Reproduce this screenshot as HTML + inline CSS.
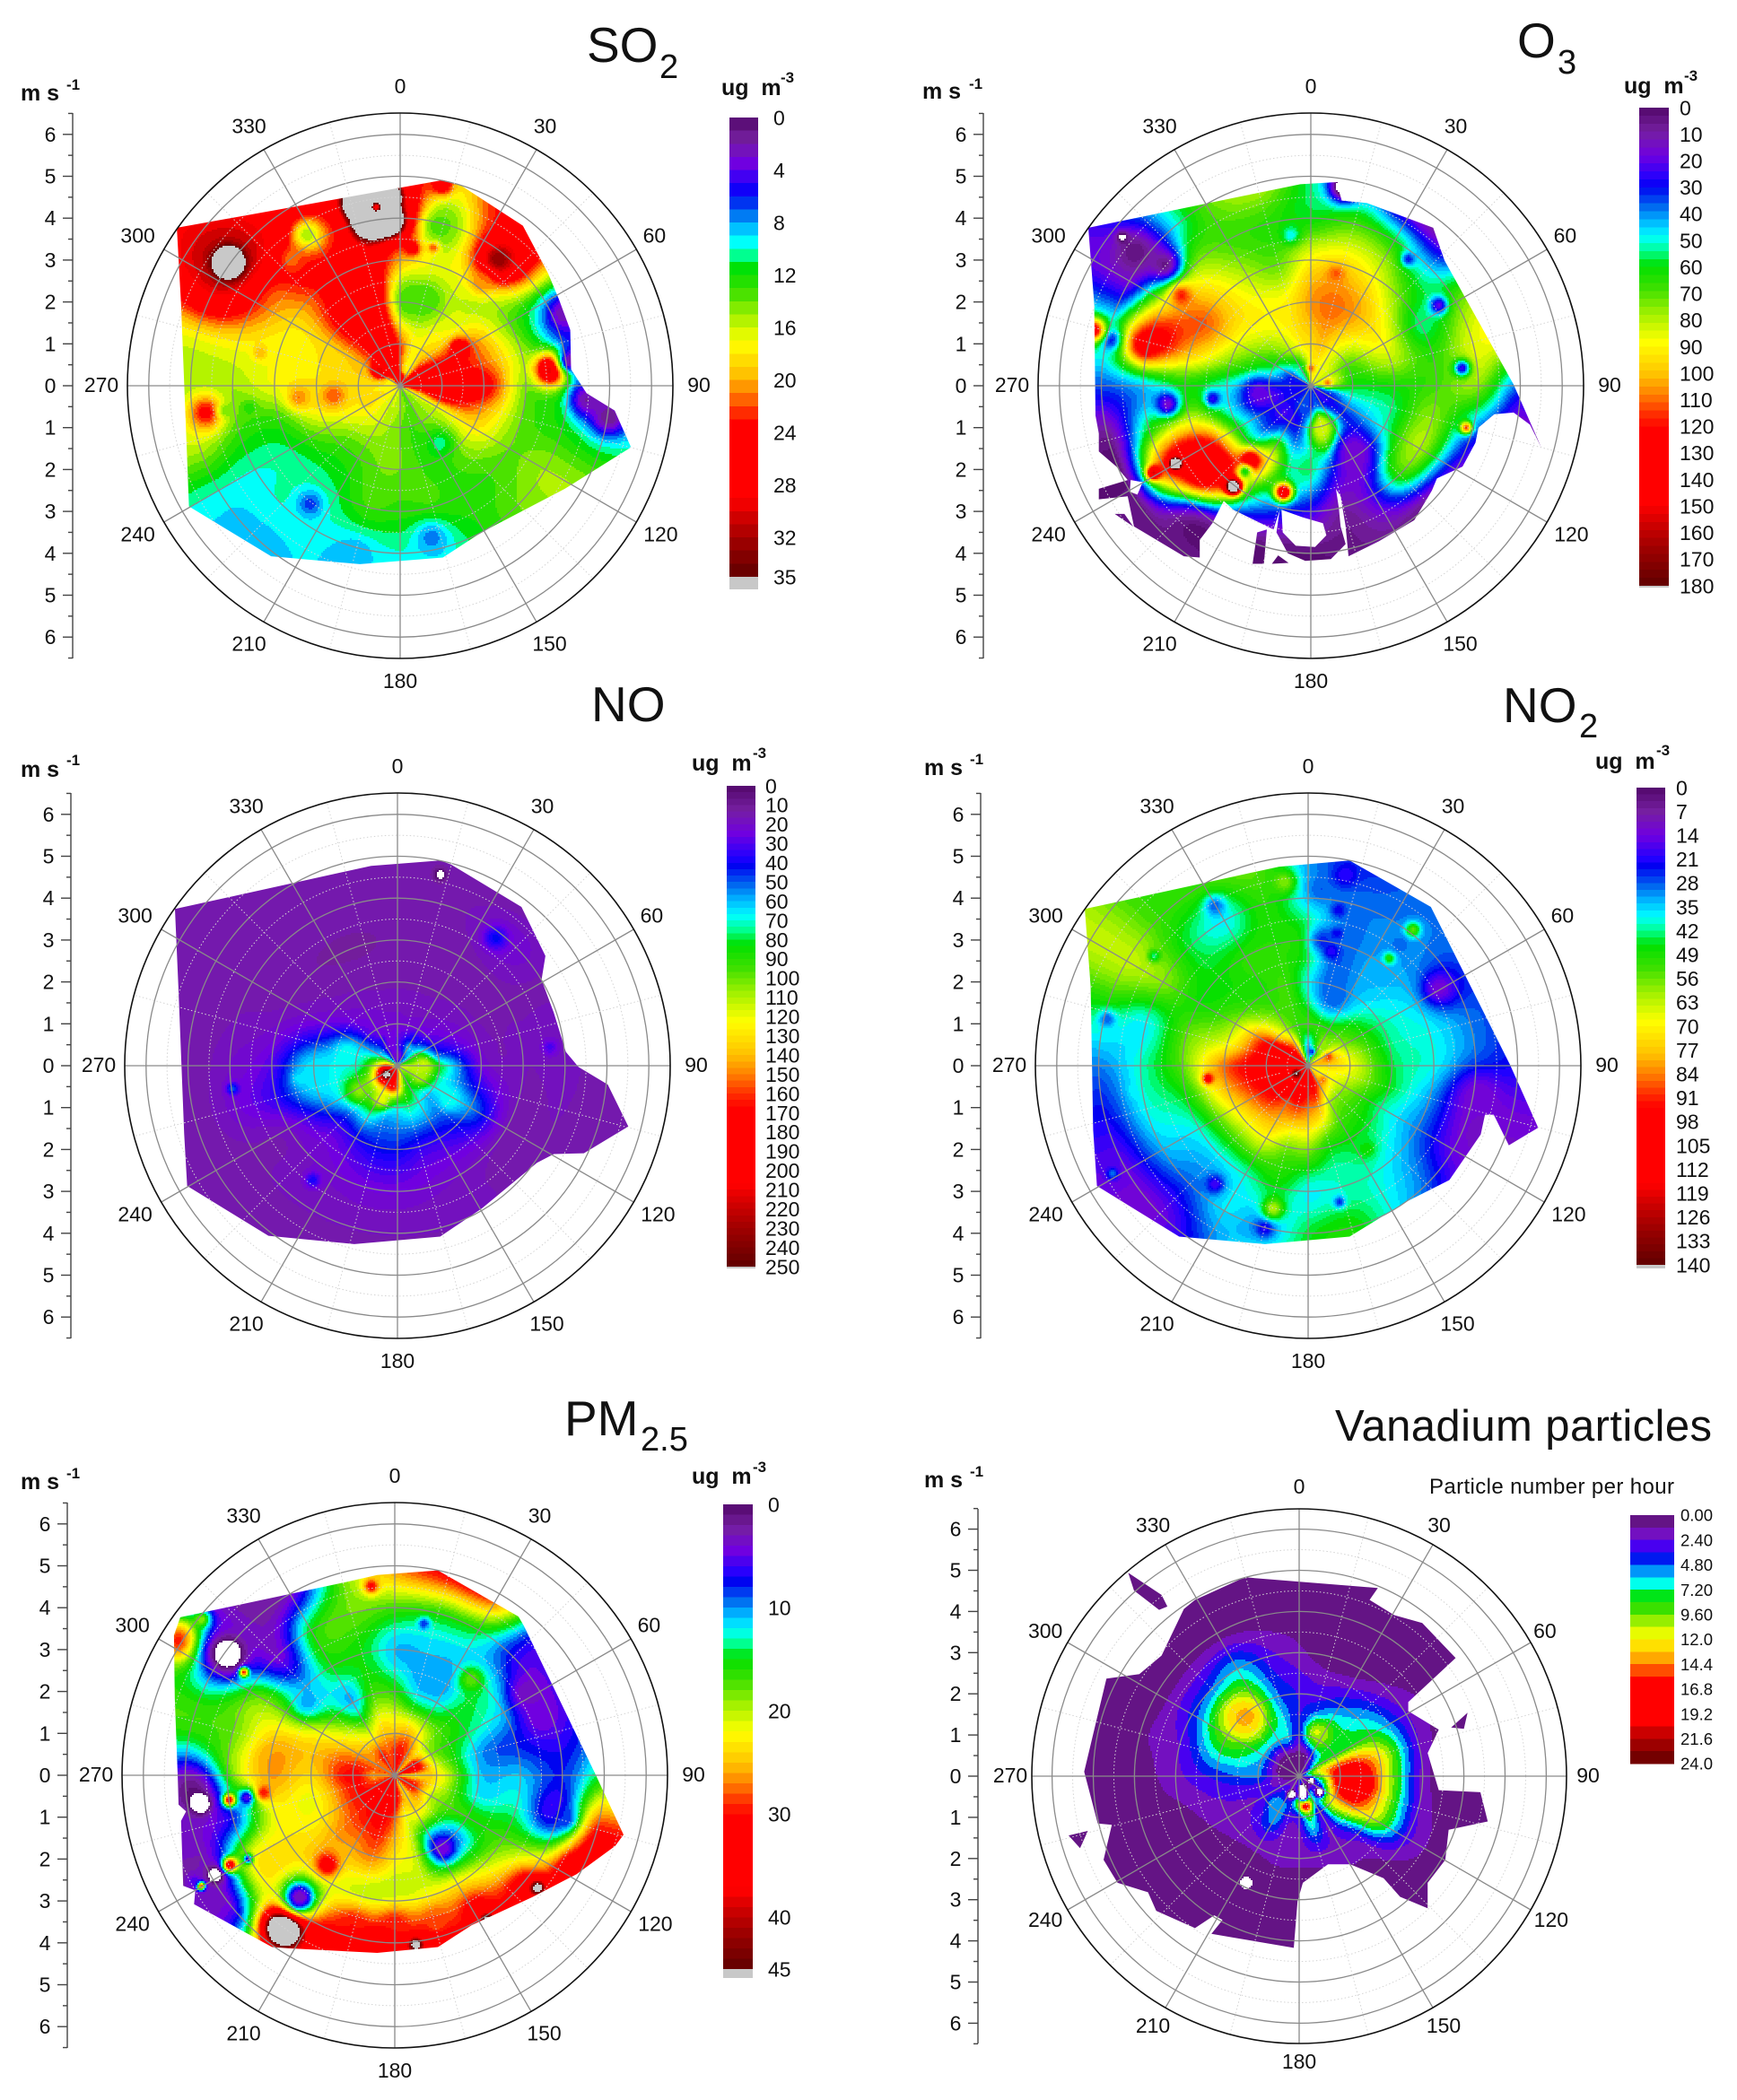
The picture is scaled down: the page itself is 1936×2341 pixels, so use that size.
<!DOCTYPE html>
<html lang="en">
<head>
<meta charset="utf-8">
<title>Pollutant polar plots</title>
<style>
html,body{margin:0;padding:0;background:#fff;width:1936px;height:2341px;overflow:hidden}
svg{display:block}
text{font-family:"Liberation Sans",Arial,sans-serif;fill:#111}
.title{font-size:55px}
.sub{font-size:38px}
.unit{font-size:25px;font-weight:bold;white-space:pre}
.sup{font-size:17px;font-weight:bold}
</style>
</head>
<body>
<svg id="chart" width="1936" height="2341" viewBox="0 0 1936 2341" xmlns="http://www.w3.org/2000/svg">
<rect width="1936" height="2341" fill="#fff"/>
<defs id="clips"></defs>
<g id="panels"></g>

<text class="title" x="654" y="69">SO</text>
<text class="sub" x="735" y="87">2</text>
<text class="unit" x="23" y="112">m s</text>
<text class="sup" x="74" y="100">-1</text>
<text class="unit" x="804" y="106">ug  m</text>
<text class="sup" x="870" y="92">-3</text>

<text class="title" x="1691" y="64">O</text>
<text class="sub" x="1736" y="82">3</text>
<text class="unit" x="1028" y="110">m s</text>
<text class="sup" x="1080" y="99">-1</text>
<text class="unit" x="1810" y="104">ug  m</text>
<text class="sup" x="1877" y="90">-3</text>

<text class="title" x="659" y="804">NO</text>
<text class="unit" x="23" y="866">m s</text>
<text class="sup" x="74" y="853">-1</text>
<text class="unit" x="771" y="859">ug  m</text>
<text class="sup" x="839" y="845">-3</text>

<text class="title" x="1675" y="805">NO</text>
<text class="sub" x="1760" y="822">2</text>
<text class="unit" x="1030" y="864">m s</text>
<text class="sup" x="1081" y="852">-1</text>
<text class="unit" x="1778" y="857">ug  m</text>
<text class="sup" x="1846" y="842">-3</text>

<text class="title" x="629" y="1600">PM</text>
<text class="sub" x="714" y="1617">2.5</text>
<text class="unit" x="23" y="1660">m s</text>
<text class="sup" x="74" y="1648">-1</text>
<text class="unit" x="771" y="1654">ug  m</text>
<text class="sup" x="839" y="1641">-3</text>

<text x="1488" y="1606" style="font-size:49px" textLength="420">Vanadium particles</text>
<text class="unit" x="1030" y="1658">m s</text>
<text class="sup" x="1081" y="1646">-1</text>
<text x="1593" y="1665" style="font-size:24px" textLength="273">Particle number per hour</text>
</svg>

<script>
/* ---- shared axes ---- */
const directions = [0,15,30,45,60,75,90,105,120,135,150,165,180,195,210,225,240,255,270,285,300,315,330,345];
const ringSpeeds = [0.5,1,2,3,4,5];
const speedTicks = [0,1,2,3,4,5,6];
const angleTicks = [0,30,60,90,120,150,180,210,240,270,300,330];

/* ---- SO2: concentration per ring (rows) and direction (columns) ---- */
const so2Values = [
 [22,18,18,23,26,27,26,22,17,15,14,14,15,16,16,17,18,18,18,19,22,26,28,25],
 [22,18,18,20,24,26,26,25,17,15,14,13,14,15,16,17,18,18,18.5,19,20,23,25,26],
 [14,14,16,17,21,22,25,21,18,15,13,13,14,14,13,13,15,18,18,18,19,24,27,26],
 [20,17,17,16,14,15,14,14,14,13,12.5,13,12.5,13,11,10.5,11,13,17,17,18,22,26,27],
 [27,15,21,24,10,7,11,12,15,14,12,10,10,9,9.5,10,10,13,15,17,21,27,22,26],
 [27,18,24,24,10,5,5,10,15,14,12,10,10,9,9,8.5,10,16,15,17,27,27,26,26]
];
/* localised features: east speed, north speed, value, extent */
const so2Spots = [
 [-3.2,2.2,18,.45],[-2.7,3,19,.3],[.2,4,27,.3],[1,4.8,27,.18],[.3,3.3,27,.13],[.8,3.32,26,.1],
 [-4.1,2.94,32,.8],[-4.1,2.94,60,.2],[-.7,3.95,60,.28],[-.3,4.5,55,.2],[-1,4.4,55,.25],[-.25,3.95,55,.22],[-.57,4.26,27,.1],
 [2.34,3.02,33,.35],[3.6,.39,31,.28],[-4.64,-.64,24,.3],[-2.22,3.61,15,.25],[.89,3.82,13.5,.35],
 [-2.15,-2.82,6.5,.22],[.75,-3.63,7.5,.3],[-1.1,-4,8,.22],[-2.42,-.28,21,.2],[-1.59,-.23,22,.2],
 [-3.34,.79,20,.12],[-3.6,-.52,12.5,.13],[-4.17,-.59,14,.13],[.95,-1.37,10.5,.25],[1.94,2.47,21,.2],
 [.62,2.06,13,.3],[1.41,.91,27,.15],[-1.1,2.47,29,.3],
 [3.93,1.74,2,.3],[4.06,.6,2,.22],[4.45,-.33,2,.3],[4.98,-.75,1,.3],
 [-.5,.36,30,.12],[0,.19,29,.08],[-.23,.04,17,.1]
];
const so2Boundary = [[[-5.33,3.77],[1.02,4.91],[1.41,4.81],[2.93,3.82],[3.53,2.68],[3.79,2.06],[4.06,1.33],[4.08,.39],[4.45,-.18],[5.12,-.59],[5.51,-1.47],[3.93,-2.46],[1.94,-3.5],[1.02,-4.1],[-.96,-4.26],[-3.08,-4.07],[-5.04,-2.88],[-5.09,-1.58],[-5.23,1.95]]];
const so2LegendTicks = ["0","4","8","12","16","20","24","28","32","35"];

/* ---- O3 ---- */
const o3Values = [
 [90,90,85,85,80,85,75,40,30,25,30,35,30,35,35,30,30,30,30,30,35,50,55,70],
 [95,100,90,80,70,65,60,50,38,30,50,85,40,28,28,25,28,25,35,50,60,70,80,90],
 [105,110,105,95,88,78,62,55,52,40,18,35,55,55,85,60,60,48,50,72,85,90,90,92],
 [90,95,88,72,55,65,68,75,78,65,25,10,25,35,60,125,125,80,62,100,112,95,80,72],
 [60,68,60,45,70,85,75,40,20,5,8,5,3,3,8,20,110,60,45,120,90,78,68,65],
 [55,40,5,10,80,90,35,10,5,3,3,3,3,3,3,5,3,5,35,55,20,40,70,80]
];
const o3Spots = [
 [-2.6,-2,135,.45],[-4.2,3.2,3,.4],[-3.5,2.9,5,.3],[-4.5,3.55,-5,.1],[-3.23,-1.86,250,.1],[-1.85,-2.41,250,.12],
 [-.65,-2.54,150,.15],[-1.44,-1.79,140,.2],[-1.57,-2.05,60,.12],[-3.75,-2.08,155,.12],
 [3.05,1.92,20,.15],[3.61,.42,25,.14],[2.33,3.02,30,.12],[3.71,-1,115,.1],[-4.81,1.12,25,.2],
 [-5.18,1.33,130,.2],[-3.95,.97,130,.25],[-3.42,-.44,15,.2],[-2.34,-.31,25,.13],[-1.24,-.18,18,.25],
 [-.48,3.6,48,.15],[.61,2.68,112,.15],[-3.09,2.16,118,.18],[.28,-1.06,85,.25],[1.07,-1.58,15,.35],
 [.81,4.76,-20,.25],[0,.42,115,.06],[.4,.07,110,.07]
];
const o3Boundary = [
 [[-5.31,3.77],[-.25,4.81],[.94,4.88],[.67,4.65],[.74,4.42],[1.34,4.36],[2.92,3.77],[3.19,2.99],[4.84,.03],[5.5,-1.47],[5.23,-.93],[4.84,-.64],[4.38,-.68],[4,-1],[3.93,-1.36],[3.62,-1.93],[3.01,-2.21],[2.89,-2.5],[2.47,-3.21],[1.63,-3.71],[.9,-4.07],[.83,-3.36],[.71,-2.64],[.6,-2.46],[.67,-2.93],[.71,-3.36],[.83,-3.78],[.48,-4.14],[-.13,-4.18],[-.55,-4],[-.82,-3.5],[-.74,-2.96],[-.89,-3.43],[-1.85,-2.96],[-2.08,-2.75],[-2.35,-3.28],[-2.65,-3.68],[-2.65,-4.1],[-3.03,-4.07],[-4.22,-3.36],[-4.37,-2.64],[-5.06,-2.71],[-5.06,-2.46],[-4.37,-2.25],[-4.64,-1.93],[-5.06,-1.57],[-5.06,-1.14],[-5.14,-.71],[-5.17,1.95]],
 [[-.7,-2.96],[-.67,-3.5],[-.36,-3.82],[.1,-3.85],[.37,-3.57],[.29,-3.28],[-.2,-3.14]],
 [[-4.3,-2.25],[-4.01,-2.3],[-4.14,-2.6],[-4.32,-2.53]],
 [[-1.28,-3.5],[-1.05,-3.43],[-1.12,-4.25],[-1.39,-4.25]],
 [[-.93,-4.25],[-.78,-4.05],[-.53,-4.23]],
 [[-4.68,-3.06],[-4.45,-3.06],[-4.24,-3.36]]
];
const o3LegendTicks = ["0","10","20","30","40","50","60","70","80","90","100","110","120","130","140","150","160","170","180"];

/* ---- NO ---- */
const noValues = [
 [30,40,60,60,80,90,110,110,100,90,80,100,130,140,130,120,110,100,95,80,60,50,30,25],
 [22,22,25,28,35,50,80,75,70,60,70,75,70,70,90,85,90,80,72,65,50,32,25,22],
 [16,16,16,17,18,20,25,38,55,42,36,36,42,42,38,34,48,62,62,42,26,19,17,16],
 [14,14,15,16,16,17,17,17,17,18,20,22,24,24,22,20,20,35,30,22,16,14,13,13],
 [15,15,18,22,16,18,18,17,16,16,17,17,17,17,17,17,16,22,20,17,15,15,15,15],
 [14,14,14,14,14,14,14,14,14,14,14,14,14,14,14,14,14,14,14,14,14,14,14,14]
];
const noSpots = [
 [-1.9,-.2,66,.4],[-1.2,.3,70,.25],
 [-.26,-.21,190,.2],[-.13,-.5,170,.1],[-.26,-.21,270,.1],[0,.23,20,.1],[-.37,.59,40,.06],[.4,.6,35,.06],
 [2.34,3.05,42,.2],[3.64,.44,32,.13],[-3.94,-.55,50,.1],[-2.35,-.31,65,.12],[-2.02,-2.73,40,.13],
 [.62,.02,115,.15],[.55,-.24,110,.15],[-.9,-.6,105,.2],[-.37,-.81,120,.15],[1.22,-.81,70,.2],[1.02,4.56,-10,.09]
];
const noBoundary = [[[-5.31,3.74],[-.63,4.77],[1.02,4.9],[1.28,4.8],[2.96,3.79],[3.53,2.62],[3.44,2.05],[3.73,1.27],[4.02,.33],[4.32,-.03],[5.02,-.45],[5.51,-1.45],[4.45,-2.09],[3.73,-2.11],[3.33,-2.32],[2.01,-3.41],[1.02,-4.08],[-1.03,-4.26],[-3.08,-4.06],[-5.02,-2.87],[-5.09,-1.64],[-5.23,1.89]]];
const noLegendTicks = ["0","10","20","30","40","50","60","70","80","90","100","110","120","130","140","150","160","170","180","190","200","210","220","230","240","250"];

/* ---- NO2 ---- */
const no2Values = [
 [35,45,60,60,75,80,75,70,70,75,85,95,95,105,105,105,105,105,100,100,100,95,80,50],
 [52,52,52,55,58,65,68,65,60,58,62,80,85,90,88,95,98,100,100,100,96,75,60,52],
 [40,30,35,38,42,43,45,46,42,45,47,48,58,58,68,68,72,80,85,68,60,52,50,52],
 [48,30,32,33,35,38,38,32,30,35,40,40,38,46,40,38,40,47,55,55,48,47,50,50],
 [35,30,30,30,25,30,28,14,15,28,38,48,45,32,36,28,33,38,40,38,58,45,38,50],
 [32,25,28,30,30,25,22,13,12,15,35,48,48,45,28,14,15,22,30,45,63,52,52,55]
];
const no2Spots = [
 [.3,4.2,28,.2],[.35,3,25,.25],
 [-.28,-.19,125,.13],[-.28,-.19,145,.05],[.09,.33,25,.07],[.49,.21,90,.07],[.36,-.34,85,.07],[3.13,1.84,12,.28],
 [.89,4.54,20,.2],[.73,3.71,22,.13],[.69,3.16,22,.1],[.56,2.72,20,.13],[.62,1.63,28,.35],[2.5,3.24,55,.13],
 [1.94,2.56,50,.1],[2.2,2.88,28,.12],[-2.39,-.31,100,.1],[-2.22,3.81,28,.18],[-3.67,2.62,42,.1],[-4.8,1.11,28,.15],
 [-4.67,-2.58,30,.1],[-2.22,-2.83,18,.15],[-1.03,-3.87,20,.15],[.75,-3.25,25,.1],[4.06,-.71,12,.4],[-.83,-3.41,62,.18],
 [-.57,4.38,58,.2],[1.41,-2,48,.15],[-4.14,-.6,38,.1]
];
const no2Boundary = [[[-5.33,3.74],[-.7,4.75],[.99,4.9],[2.93,3.79],[4.82,.02],[5.49,-1.48],[4.79,-1.9],[4.43,-1.17],[4.22,-1.17],[4.12,-1.64],[3.37,-2.73],[2.34,-3.25],[.99,-4.08],[-1.03,-4.26],[-3.08,-4.08],[-5.04,-2.87],[-5.13,-1.54],[-5.19,1.89]]];
const no2LegendTicks = ["0","7","14","21","28","35","42","49","56","63","70","77","84","91","98","105","112","119","126","133","140"];

/* ---- PM2.5 ---- */
const pmValues = [
 [30,30,28,26,32,32,24,28,30,28,24,28,33,33,33,33,30,28,26,28,27,28,30,28],
 [25,26,24,20,19,21,23,22,20,22,23,22,28,31,31,30,30,30,31,29,26,24,23,25],
 [16,12,12,15,14,11,11.5,12.5,16,10,8,20,23,27,26,26,23,22,24,25,22,16,11,17],
 [11,11,11,13,11,8,11,13,17,20,23,22,20,20,22,24,23,22,26,25,19,11,15,15],
 [17,16,15,7,5,6,8,7,22,30,29,32,33,32,30,23,21,8,18,18,18,4,15,18],
 [27,31,30,8,9,9,15,30,36,36,38,42,42,35,35,8,3,4,8,17,12,3,4,18]
];
const pmSpots = [
 [4.3,-2.3,34,.3],[3.2,-2.7,34,.3],[2,-3.3,34,.3],[1,-3.9,36,.3],[-.4,-4.1,38,.3],[0,-3.6,30,.35],[-1,-3.6,30,.35],[1,-3.5,28,.3],
 [-5.1,3.2,32,.4],[-4.6,3.7,22,.15],
 [-3.99,2.9,5,.55],[-3.99,2.9,-5,.28],[-4.85,-.37,1,.45],[-4.63,-.68,-5,.16],[-4.28,-2.38,4,.25],[-4.28,-2.38,-5,.13],
 [-2.64,-3.65,34,.5],[-2.64,-3.65,70,.28],[-2.27,-2.91,6,.35],[-2.27,-2.91,3,.15],
 [-3.53,-.53,5,.14],[-3.95,-.59,33,.1],[-3.13,-.42,30,.13],[-3.93,-2.14,35,.12],[-3.5,-2,6,.08],
 [-4.63,-2.64,32,.07],[-4.79,-2.52,6,.1],[-3.6,2.46,30,.08],[-1.61,-2.14,33,.2],[1.16,-1.75,4,.17],
 [-.56,4.51,31,.13],[.7,3.62,8,.1],[1.82,2.29,18,.2],[3.15,1.96,3,.3],[3.48,1.41,4,.3],[4.07,-1.03,8,.2],
 [-2.08,1.74,10.5,.3],[-2.93,.41,26,.2],[.5,-4.04,50,.12],[2.22,-3.47,50,.12],[3.41,-2.69,50,.12]
];
const pmBoundary = [[[-5.27,3.34],[-5.12,3.77],[-1.22,4.6],[-.42,4.78],[1.03,4.89],[2.95,3.79],[3.08,3.57],[4.8,0],[5.46,-1.42],[5.26,-1.69],[4.34,-2.36],[3.28,-2.91],[1.83,-3.58],[1.03,-4.1],[-.42,-4.24],[-2.54,-4.13],[-2.93,-4.1],[-4.79,-3.08],[-4.76,-2.75],[-5.05,-2.64],[-5.1,-1.09],[-4.98,-.86],[-5.16,-.7],[-5.18,-.03],[-5.25,1.85]]];
const pmLegendTicks = ["0","10","20","30","40","45"];

/* ---- Vanadium particles ---- */
const vanValues = [
 [1,1,3,6,9,12,9,5,3,4,8,12,12,6,3,4,3,2,1.5,1,1,.7,.7,.8],
 [3,6,9,8,8,14,16,14,12,9,3,8,3.5,3,6,4,2.5,3,5,5.5,6,6,6,6],
 [3.5,3.2,4.5,6,8,12,12,12,11,3.5,2,2,1.5,1.5,1.5,1.5,1.8,2.5,4,7,10,13,9,5],
 [1.5,.5,.5,1.5,2.5,2.5,2,2.5,3,1,.5,.5,.5,.5,.5,.5,.5,1,2,2.5,4,5,6,3],
 [.5,.5,.5,.5,.5,.5,.5,.5,.5,.5,.5,.5,.5,.5,.5,.5,.5,.5,.5,1,.5,.5,.5,.5],
 [.5,.5,.5,.5,.5,.5,.5,.5,.5,.5,.5,.5,.5,.5,.5,.5,.5,.5,.5,.5,.5,.5,.5,.5]
];
const vanSpots = [
 [1.37,-.17,19,.35],[-1.25,1.47,13.5,.3],[.43,1.07,11,.2],[.16,-.73,17,.1],[-.58,-.68,6,.13],[-.1,.11,.3,.25],
 [.09,-.3,-8,.08],[.09,-.48,-8,.08],[-.17,-.45,-5,.07],[.5,-.39,-5,.07],[.3,-.11,-5,.05],[-1.28,-2.59,-5,.07]
];
const vanBoundary = [
 [[-1.32,4.83],[1.91,4.57],[1.71,4.28],[2.31,3.91],[2.99,3.72],[3.8,2.87],[2.65,1.8],[2.65,1.58],[3.39,1.13],[3.12,.56],[3.39,-.34],[4.4,-.39],[4.58,-1.1],[3.63,-1.3],[3.55,-2.03],[3.12,-2.59],[3.12,-3.21],[2.45,-2.93],[2.05,-2.48],[1.24,-2.14],[.7,-2.14],[.09,-2.59],[-.04,-3.04],[-.13,-4.17],[-2.13,-3.83],[-1.86,-3.49],[-2.06,-3.38],[-2.53,-3.69],[-3.47,-3.27],[-3.67,-2.82],[-4.41,-2.59],[-4.75,-2.03],[-4.55,-1.18],[-4.89,-1.15],[-5.22,.11],[-4.68,2.37],[-3.88,2.48],[-3.34,2.93],[-2.8,4.06],[-2.53,4.28]],
 [[-4.15,4.94],[-3.34,4.4],[-3.2,4.12],[-3.4,4.04],[-4.01,4.51]],
 [[4.09,1.54],[4,1.15],[3.69,1.18]],
 [[-5.6,-1.44],[-5.13,-1.33],[-5.32,-1.75]]
];
const vanLegendTicks = ["0.00","2.40","4.80","7.20","9.60","12.0","14.4","16.8","19.2","21.6","24.0"];

/* ---- colour scale ---- */
const colourPositions = [0,.05,.1,.15,.165,.21,.235,.27,.3,.33,.38,.43,.49,.56,.6,.64,.67,.83,.87,.92,1];
const colourValues = ["#52086a","#751fa0","#7000e0","#2000ff","#0000f0","#0070f0","#00b0ff","#00ffff","#00ff90","#00e000","#40e000","#a0f000","#ffff00","#ffc000","#ff8000","#ff3000","#ff0000","#ff0000","#d00000","#a00000","#600000"];
const overRangeColour = "#c8c8c8";

function hexToRgb(h){return [parseInt(h.slice(1,3),16),parseInt(h.slice(3,5),16),parseInt(h.slice(5,7),16)];}
function colourAt(t){
  let i=0;
  while(i<colourPositions.length-2&&t>colourPositions[i+1])i++;
  const f=Math.max(0,Math.min(1,(t-colourPositions[i])/(colourPositions[i+1]-colourPositions[i])));
  const a=hexToRgb(colourValues[i]),b=hexToRgb(colourValues[i+1]);
  return "rgb("+Math.round(a[0]+(b[0]-a[0])*f)+","+Math.round(a[1]+(b[1]-a[1])*f)+","+Math.round(a[2]+(b[2]-a[2])*f)+")";
}
function catmull(p0,p1,p2,p3,f){
  return .5*((2*p1)+(-p0+p2)*f+(2*p0-5*p1+4*p2-p3)*f*f+(-p0+3*p1-3*p2+p3)*f*f*f);
}
function ringIndex(s){
  if(s<=ringSpeeds[0])return 0;
  for(let i=0;i<ringSpeeds.length-1;i++){
    if(s<=ringSpeeds[i+1])return i+(s-ringSpeeds[i])/(ringSpeeds[i+1]-ringSpeeds[i]);
  }
  return ringSpeeds.length-1;
}
function gridValue(values,s,dir){
  const n=directions.length,step=360/n;
  const a=(((dir%360)+360)%360)/step,i=Math.floor(a)%n,f=a-Math.floor(a);
  const ri=ringIndex(s),last=values.length-1,j=Math.min(Math.floor(ri),last),g=ri-j;
  const rowAt=function(k){
    const row=values[Math.max(0,Math.min(last,k))];
    return catmull(row[(i-1+n)%n],row[i],row[(i+1)%n],row[(i+2)%n],f);
  };
  return catmull(rowAt(j-1),rowAt(j),rowAt(j+1),rowAt(j+2),g);
}
function fieldValue(panel,u,v){
  const s=Math.hypot(u,v),dir=Math.atan2(u,v)*180/Math.PI;
  let val=gridValue(panel.values,s,dir);
  val=Math.max(panel.max*.005,Math.min(panel.max,val));
  for(const sp of panel.spots){
    const du=u-sp[0],dv=v-sp[1];
    const w=Math.exp(-(du*du+dv*dv)/(2*sp[3]*sp[3]));
    val+=(sp[2]-val)*w;
  }
  return val;
}

const NS="http://www.w3.org/2000/svg";
function mk(tag,attrs,parent){
  const el=document.createElementNS(NS,tag);
  for(const k in attrs)el.setAttribute(k,attrs[k]);
  if(parent)parent.appendChild(el);
  return el;
}

function labelNudge(deg){
  if(deg===30||deg===60)return -5;
  if(deg===120)return 2;
  if(deg===240||deg===300)return -4;
  if(deg===210||deg===330)return -2;
  return 0;
}

function drawPanel(p){
  const root=document.getElementById("panels");
  const g=mk("g",{},root);
  
  
  const xOf=function(u){return p.cx+u*p.unit;};
  const yOf=function(v){return p.cy-v*p.unit;};

  /* data footprint */
  const clip=mk("clipPath",{id:"clip-"+p.id},document.getElementById("clips"));
  let clipD="";
  for(const poly of p.boundary){
    clipD+="M"+poly.map(function(q){return xOf(q[0]).toFixed(1)+" "+yOf(q[1]).toFixed(1);}).join("L")+"Z";
  }
  mk("path",{d:clipD,"clip-rule":"evenodd"},clip);

  /* filled contour bands */
  const field=mk("g",{"clip-path":"url(#clip-"+p.id+")","shape-rendering":"crispEdges"},g);
  
  
  const bands={};
  const cellSize=2,R=p.radius;
  for(let py=p.cy-R;py<p.cy+R;py+=cellSize){
    let runStart=null,runBand=null;
    const flush=function(end){
      if(runBand!==null&&runBand!==-1){
        (bands[runBand]=bands[runBand]||[]).push("M"+runStart+" "+py+"h"+(end-runStart)+"v"+cellSize+"h"+(runStart-end)+"z");
      }
    };
    for(let px=p.cx-R;px<=p.cx+R;px+=cellSize){
      const u=(px+1-p.cx)/p.unit,v=(p.cy-py-1)/p.unit;
      let band=-1;
      if(Math.hypot(u,v)*p.unit<=R){
        const val=fieldValue(p,u,v);
        if(val<0)band=-1;
        else if(val>=p.max)band=p.levels;
        else band=Math.floor(val/p.max*p.levels);
      }
      if(band!==runBand){flush(px);runStart=px;runBand=band;}
    }
    flush(p.cx+R+cellSize);
  }
  for(const key of Object.keys(bands)){
    const lvl=+key;
    const d=bands[key].join("");
    const path=mk("path",{d:d,fill:lvl>=p.levels?overRangeColour:colourAt((lvl+.5)/p.levels)},field);
    
    
  }

  /* polar grid */
  const grid=mk("g",{fill:"none"},g);
  
  
  for(let s=.5;s<=6;s+=.5){
    const whole=Number.isInteger(s);
    const circ=mk("circle",{cx:p.cx,cy:p.cy,r:s*p.unit,stroke:whole?"#8a8a8a":"#d4d4d4","stroke-width":whole?1.3:1,"stroke-dasharray":whole?"none":"1.5 2.5"},grid);
    
    
  }
  for(let k=0;k<24;k++){
    const a=directions[k]*Math.PI/180,major=k%2===0;
    const inner=major?0:.7*p.unit;
    const line=mk("line",{x1:p.cx+inner*Math.sin(a),y1:p.cy-inner*Math.cos(a),x2:p.cx+R*Math.sin(a),y2:p.cy-R*Math.cos(a),stroke:major?"#8a8a8a":"#d4d4d4","stroke-width":major?1.3:1,"stroke-dasharray":major?"none":"1.5 2.5"},grid);
    
    
  }
  const outer=mk("circle",{cx:p.cx,cy:p.cy,r:R,stroke:"#111","stroke-width":1.6},grid);
  
  

  /* direction labels */
  for(const deg of angleTicks){
    const a=deg*Math.PI/180;
    const t=mk("text",{x:p.cx+(R+p.labelGap)*Math.sin(a)+labelNudge(deg),y:p.cy-(R+p.labelGap)*Math.cos(a)+(deg===180?4:7),"text-anchor":"middle",style:"font-size:23px"},g);
    t.textContent=String(deg);
    
    
  }

  /* speed axis */
  const axis=mk("g",{stroke:"#444","stroke-width":1.4},g);
  
  
  mk("line",{x1:p.axisX,x2:p.axisX,y1:p.cy-R,y2:p.cy+R},axis);
  for(let s=-6.5;s<=6.5;s+=.5){
    const major=Number.isInteger(s);
    mk("line",{x1:p.axisX-(major?11:5),x2:p.axisX,y1:yOf(s),y2:yOf(s)},axis);
  }
  for(const tick of speedTicks){
    for(const sign of (tick===0?[1]:[1,-1])){
      const t=mk("text",{x:p.axisX-25,y:yOf(sign*tick)+8,"text-anchor":"middle",style:"font-size:23px"},g);
      t.textContent=String(tick);
      
      
    }
  }

  /* legend */
  const lg=mk("g",{"shape-rendering":"crispEdges"},g);
  
  
  const legendH=p.legendY1-p.legendY0;
  for(let i=0;i<p.levels;i++){
    const y0=p.legendY0+legendH*i/p.levels;
    const sw=mk("rect",{x:p.legendX,y:y0,width:p.legendW,height:legendH/p.levels+.6,fill:colourAt((i+.5)/p.levels)},lg);
    
    
  }
  if(p.legendGray>0){
    const over=mk("rect",{x:p.legendX,y:p.legendY1,width:p.legendW,height:p.legendGray,fill:overRangeColour},lg);
    
    
  }
  for(const label of p.ticks){
    const y=p.legendY0+legendH*parseFloat(label)/p.max;
    const t=mk("text",{x:p.legendLabelX,y:y+p.legendFont*.36,style:"font-size:"+p.legendFont+"px"},g);
    t.textContent=label;
    
    
  }
}

drawPanel({id:"so2",cx:446,cy:430,radius:304,unit:46.7,labelGap:29,axisX:81,max:35,levels:35,values:so2Values,spots:so2Spots,boundary:so2Boundary,ticks:so2LegendTicks,legendX:813,legendW:32,legendY0:131,legendY1:643,legendGray:14,legendLabelX:862,legendFont:23});
drawPanel({id:"o3",cx:1461,cy:430,radius:304,unit:46.7,labelGap:29,axisX:1096,max:180,levels:60,values:o3Values,spots:o3Spots,boundary:o3Boundary,ticks:o3LegendTicks,legendX:1827,legendW:33,legendY0:120,legendY1:653,legendGray:2,legendLabelX:1872,legendFont:23});
drawPanel({id:"no",cx:443,cy:1188,radius:304,unit:46.7,labelGap:29,axisX:79,max:250,levels:75,values:noValues,spots:noSpots,boundary:noBoundary,ticks:noLegendTicks,legendX:810,legendW:32,legendY0:876,legendY1:1412,legendGray:2,legendLabelX:853,legendFont:23});
drawPanel({id:"no2",cx:1458,cy:1188,radius:304,unit:46.7,labelGap:29,axisX:1093,max:140,levels:70,values:no2Values,spots:no2Spots,boundary:no2Boundary,ticks:no2LegendTicks,legendX:1824,legendW:32,legendY0:878,legendY1:1410,legendGray:4,legendLabelX:1868,legendFont:23});
drawPanel({id:"pm25",cx:440,cy:1979,radius:304,unit:46.7,labelGap:29,axisX:75,max:45,levels:45,values:pmValues,spots:pmSpots,boundary:pmBoundary,ticks:pmLegendTicks,legendX:806,legendW:33,legendY0:1677,legendY1:2195,legendGray:10,legendLabelX:856,legendFont:23});
drawPanel({id:"vanadium",cx:1448,cy:1980,radius:298,unit:45.9,labelGap:24,axisX:1090,max:24,levels:20,values:vanValues,spots:vanSpots,boundary:vanBoundary,ticks:vanLegendTicks,legendX:1817,legendW:49,legendY0:1689,legendY1:1966,legendGray:0,legendLabelX:1873,legendFont:18.5});
</script>
</body>
</html>
